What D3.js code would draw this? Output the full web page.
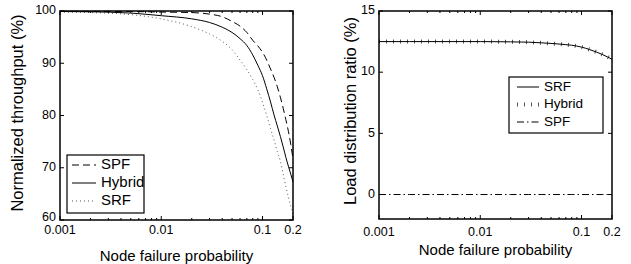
<!DOCTYPE html>
<html>
<head>
<meta charset="utf-8">
<script src="https://cdn.jsdelivr.net/npm/d3@7"></script>
<style>
  body { margin: 0; background: #fff; }
  text { font-family: "Liberation Sans", Arial, sans-serif; fill: #000; }
</style>
</head>
<body>
<svg id="chart" width="631" height="264"></svg>
<script>
// node failure probabilities (left panel)
const probs = [0.001, 0.002, 0.005, 0.01, 0.02, 0.03, 0.04, 0.05, 0.06, 0.07, 0.08, 0.09,
               0.1, 0.11, 0.12, 0.13, 0.14, 0.15, 0.16, 0.17, 0.18, 0.19, 0.2];
const tputSPF    = [99.95, 99.93, 99.9, 99.8, 99.7, 99.4, 98.9, 98.0, 97.1, 95.9, 94.4, 93.3,
                    92.1, 90.6, 88.9, 87.3, 85.5, 83.5, 81.4, 79.2, 77.0, 74.5, 71.7];
const tputHybrid = [99.9, 99.85, 99.6, 99.1, 98.5, 97.8, 96.9, 95.9, 94.7, 93.4, 91.6, 89.6,
                    87.6, 85.1, 82.6, 80.1, 78.0, 76.0, 74.0, 72.0, 70.3, 68.8, 67.3];
const tputSRF    = [99.8, 99.7, 99.3, 98.5, 97.0, 95.6, 94.2, 92.6, 90.6, 88.8, 86.9, 84.9,
                    82.5, 80.0, 77.5, 75.3, 73.1, 71.3, 68.8, 66.4, 64.4, 62.7, 61.2];

// right panel
const loadProbs  = [0.001, 0.002, 0.005, 0.01, 0.02, 0.03, 0.04, 0.05, 0.06, 0.07, 0.08,
                    0.1, 0.12, 0.14, 0.16, 0.18, 0.2];
const loadSRF    = [12.5, 12.5, 12.5, 12.5, 12.48, 12.45, 12.4, 12.35, 12.3, 12.25, 12.2,
                    12.05, 11.85, 11.65, 11.45, 11.25, 11.05];
const loadHybrid = [12.5, 12.5, 12.5, 12.5, 12.48, 12.45, 12.4, 12.35, 12.3, 12.25, 12.2,
                    12.05, 11.85, 11.65, 11.45, 11.25, 11.05];
const loadSPF    = [0, 0, 0, 0, 0, 0, 0, 0, 0, 0, 0, 0, 0, 0, 0, 0, 0];

const xTicks = [0.001, 0.01, 0.1, 0.2];
const xTickLabels = ["0.001", "0.01", "0.1", "0.2"];
const xMinor = [0.002, 0.003, 0.004, 0.005, 0.006, 0.007, 0.008, 0.009,
                0.02, 0.03, 0.04, 0.05, 0.06, 0.07, 0.08, 0.09];
const tputTicks = [60, 70, 80, 90, 100];
const loadTicks = [0, 5, 10, 15];

const svg = d3.select("#chart");

function drawPanel(opt) {
  const g = svg.append("g");
  const x = d3.scaleLog().domain([0.001, 0.2]).range([opt.left, opt.left + 233]);
  const y = d3.scaleLinear().domain(opt.yDomain).range([opt.bottom, 11]);

  // series
  const line = d3.line()
      .x(d => x(d[0]))
      .y(d => y(d[1]))
      .curve(d3.curveMonotoneX);

  opt.series.forEach(s => {
    g.append("path")
      .datum(s.xs.map((p, i) => [p, s.values[i]]))
      .attr("d", line)
      .attr("fill", "none")
      .attr("stroke", s.color)
      .attr("stroke-width", s.width)
      .attr("stroke-dasharray", s.dash);
  });

  // frame
  g.append("rect")
    .attr("x", opt.left).attr("y", 11)
    .attr("width", 233).attr("height", opt.bottom - 11)
    .attr("fill", "none").attr("stroke", "#000").attr("stroke-width", 1.5);

  // inward ticks, all four sides
  const ticks = g.append("g").attr("stroke", "#000").attr("stroke-width", 1);
  xTicks.forEach(t => {
    ticks.append("line").attr("x1", x(t)).attr("x2", x(t)).attr("y1", opt.bottom).attr("y2", opt.bottom - 4);
    ticks.append("line").attr("x1", x(t)).attr("x2", x(t)).attr("y1", 11).attr("y2", 15);
  });
  xMinor.forEach(t => {
    ticks.append("line").attr("x1", x(t)).attr("x2", x(t)).attr("y1", opt.bottom).attr("y2", opt.bottom - 2);
    ticks.append("line").attr("x1", x(t)).attr("x2", x(t)).attr("y1", 11).attr("y2", 13);
  });
  opt.yTicks.forEach(t => {
    ticks.append("line").attr("x1", opt.left).attr("x2", opt.left + 4).attr("y1", y(t)).attr("y2", y(t));
    ticks.append("line").attr("x1", opt.left + 233).attr("x2", opt.left + 229).attr("y1", y(t)).attr("y2", y(t));
  });

  // tick labels
  g.selectAll(".xlab")
    .data(xTicks)
    .enter()
    .append("text")
    .attr("x", d => x(d))
    .attr("y", opt.xLabY)
    .attr("text-anchor", "middle")
    .attr("dominant-baseline", "middle")
    .style("font-size", "12.5px")
    .text((d, i) => xTickLabels[i]);

  g.selectAll(".ylab")
    .data(opt.yTicks)
    .enter()
    .append("text")
    .attr("x", opt.left - 4)
    .attr("y", d => y(d) + (d === opt.yDomain[0] ? -2 : 0))
    .attr("text-anchor", "end")
    .attr("dominant-baseline", "middle")
    .style("font-size", "12.5px")
    .text(d => d);

  // axis titles
  g.append("text")
    .attr("x", opt.left + 116.5)
    .attr("y", opt.xTitleY)
    .attr("text-anchor", "middle")
    .attr("dominant-baseline", "middle")
    .style("font-size", "15px")
    .text("Node failure probability");

  g.append("text")
    .attr("transform", `translate(${opt.yTitleX},${opt.yTitleCy}) rotate(-90)`)
    .attr("text-anchor", "middle")
    .attr("dominant-baseline", "middle")
    .style("font-size", "16.5px")
    .text(opt.yTitle);

  // legend
  const lg = opt.legend;
  g.append("rect")
    .attr("x", lg.x).attr("y", lg.y)
    .attr("width", lg.w).attr("height", lg.h)
    .attr("fill", "#fff").attr("stroke", "#000").attr("stroke-width", 1.2);

  lg.items.forEach((s, i) => {
    const yy = lg.y + lg.first + i * lg.step;
    g.append("line")
      .attr("x1", lg.x + lg.pad).attr("x2", lg.x + lg.pad + lg.len)
      .attr("y1", yy).attr("y2", yy)
      .attr("stroke", s.color)
      .attr("stroke-width", s.width)
      .attr("stroke-dasharray", s.dash);
    g.append("text")
      .attr("x", lg.x + lg.pad + lg.len + 5)
      .attr("y", yy)
      .attr("dominant-baseline", "middle")
      .style("font-size", lg.font)
      .text(s.name);
  });
}

// Left: normalized throughput
const tSPF = { name: "SPF", xs: probs, values: tputSPF, color: "#000", width: 1, dash: "7 4" };
const tHyb = { name: "Hybrid", xs: probs, values: tputHybrid, color: "#000", width: 1, dash: null };
const tSRF = { name: "SRF", xs: probs, values: tputSRF, color: "#555", width: 1, dash: "1 3" };

drawPanel({
  left: 60, bottom: 220, yDomain: [60, 100], yTicks: tputTicks,
  xLabY: 231, xTitleY: 257, yTitleX: 19, yTitleCy: 113,
  yTitle: "Normalized throughput (%)",
  series: [tSRF, tHyb, tSPF],
  legend: { x: 67, y: 155, w: 77, h: 58, first: 10, step: 18, pad: 5, len: 24, font: "15px",
            items: [tSPF, tHyb, tSRF] }
});

// Right: load distribution ratio
const lSRF = { name: "SRF", xs: loadProbs, values: loadSRF, color: "#000", width: 1, dash: null };
const lHyb = { name: "Hybrid", xs: loadProbs, values: loadHybrid, color: "#555", width: 4, dash: "1 6" };
const lSPF = { name: "SPF", xs: loadProbs, values: loadSPF, color: "#000", width: 1, dash: "7 3 1.5 3" };

drawPanel({
  left: 379, bottom: 219, yDomain: [-2, 15], yTicks: loadTicks,
  xLabY: 233, xTitleY: 251, yTitleX: 352, yTitleCy: 111,
  yTitle: "Load distribution ratio (%)",
  series: [lHyb, lSRF, lSPF],
  legend: { x: 509, y: 77, w: 94, h: 56, first: 10, step: 17.5, pad: 8, len: 22, font: "13.5px",
            items: [lSRF, lHyb, lSPF] }
});
</script>
</body>
</html>
